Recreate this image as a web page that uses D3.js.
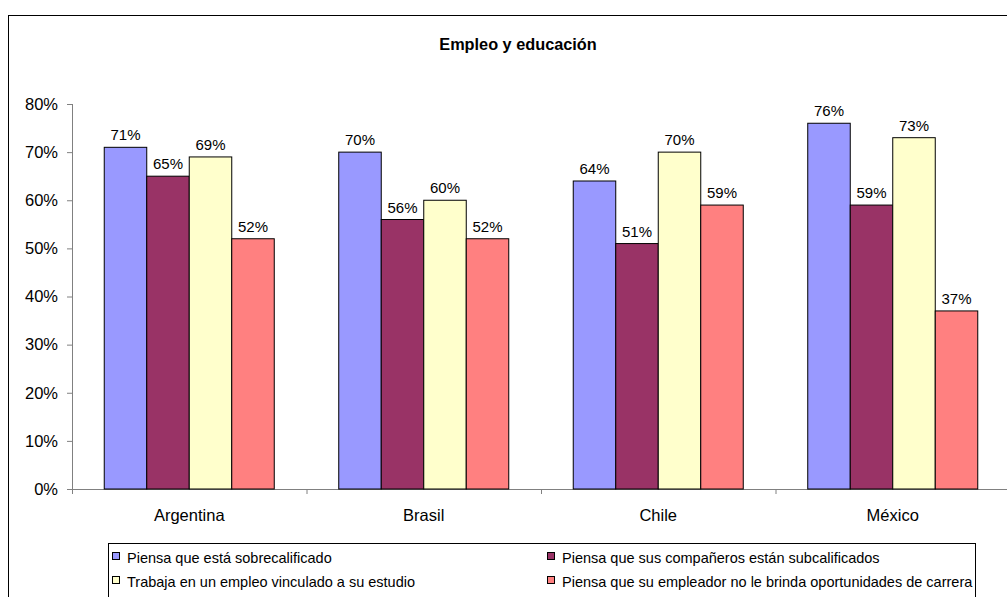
<!DOCTYPE html>
<html>
<head>
<meta charset="utf-8">
<script src="https://cdn.jsdelivr.net/npm/d3@7"></script>
<style>
  body { margin: 0; background: #fff; }
  svg { display: block; font-family: "Liberation Sans", Arial, sans-serif; }
</style>
</head>
<body>
<svg id="chart" width="1007" height="597"></svg>
<script>
const countries = ["Argentina", "Brasil", "Chile", "México"];
const seriesNames = [
  "Piensa que está sobrecalificado",
  "Piensa que sus compañeros están subcalificados",
  "Trabaja en un empleo vinculado a su estudio",
  "Piensa que su empleador no le brinda oportunidades de carrera"
];
const sobrecalificado = [71, 70, 64, 76];
const companeros = [65, 56, 51, 59];
const vinculado = [69, 60, 70, 73];
const empleador = [52, 52, 59, 37];
const yTicks = [0, 10, 20, 30, 40, 50, 60, 70, 80];
const colors = ["#9999FF", "#993366", "#FFFFCC", "#FF8080"];

const seriesValues = [sobrecalificado, companeros, vinculado, empleador];

const svg = d3.select("#chart");

// outer chart frame
svg.append("rect")
  .attr("x", 8.5).attr("y", 15.5)
  .attr("width", 1010).attr("height", 600)
  .attr("fill", "none").attr("stroke", "#000").attr("stroke-width", 1);

svg.append("text")
  .attr("x", 518).attr("y", 50)
  .attr("text-anchor", "middle")
  .attr("font-size", 16.3).attr("font-weight", "bold")
  .text("Empleo y educación");

const plot = { left: 72, right: 1010, top: 104, bottom: 489 };

const x0 = d3.scaleBand()
  .domain(countries)
  .range([plot.left, plot.right])
  .paddingInner(0.275)
  .paddingOuter(0.1375);

const x1 = d3.scaleBand()
  .domain(d3.range(seriesNames.length))
  .range([0, x0.bandwidth()]);

const y = d3.scaleLinear().domain([0, 80]).range([plot.bottom, plot.top]);

// y axis
const yAxis = svg.append("g")
  .attr("transform", "translate(" + plot.left + ",0)")
  .call(d3.axisLeft(y).tickValues(yTicks).tickSize(5).tickPadding(9).tickFormat(d => d + "%"));
yAxis.select(".domain").attr("stroke", "#808080").attr("d", "M0.5," + (plot.top) + "V" + plot.bottom);
yAxis.selectAll(".tick line").attr("stroke", "#808080");
yAxis.selectAll(".tick text").attr("font-size", 16.5).attr("fill", "#000")
  .attr("font-family", "Liberation Sans, Arial, sans-serif");

// x axis with ticks between categories
const catStep = (plot.right - plot.left) / countries.length;
const xAxisG = svg.append("g");
xAxisG.append("line")
  .attr("x1", plot.left - 5).attr("x2", plot.right)
  .attr("y1", plot.bottom + 0.5).attr("y2", plot.bottom + 0.5)
  .attr("stroke", "#808080");
xAxisG.selectAll("line.sep")
  .data(d3.range(countries.length + 1))
  .enter().append("line")
  .attr("class", "sep")
  .attr("x1", i => plot.left + i * catStep + 0.5)
  .attr("x2", i => plot.left + i * catStep + 0.5)
  .attr("y1", plot.bottom).attr("y2", plot.bottom + 5)
  .attr("stroke", "#808080");
xAxisG.selectAll("text")
  .data(countries)
  .enter().append("text")
  .attr("x", d => x0(d) + x0.bandwidth() / 2)
  .attr("y", plot.bottom + 32)
  .attr("text-anchor", "middle")
  .attr("font-size", 16.5)
  .text(d => d);

// bars
const groups = svg.append("g")
  .selectAll("g")
  .data(countries)
  .enter().append("g")
  .attr("transform", d => "translate(" + x0(d) + ",0)");

groups.selectAll("rect")
  .data((c, ci) => seriesValues.map((vals, si) => ({ si, v: vals[ci] })))
  .enter().append("rect")
  .attr("x", d => x1(d.si))
  .attr("y", d => y(d.v))
  .attr("width", x1.bandwidth())
  .attr("height", d => y(0) - y(d.v))
  .attr("fill", d => colors[d.si])
  .attr("stroke", "#000")
  .attr("stroke-width", 1);

groups.selectAll("text")
  .data((c, ci) => seriesValues.map((vals, si) => ({ si, v: vals[ci] })))
  .enter().append("text")
  .attr("x", d => x1(d.si) + x1.bandwidth() / 2)
  .attr("y", d => y(d.v) - 7)
  .attr("text-anchor", "middle")
  .attr("font-size", 15)
  .text(d => d.v + "%");

// legend
const legend = svg.append("g");
legend.append("rect")
  .attr("x", 108.5).attr("y", 543.5)
  .attr("width", 867).attr("height", 70)
  .attr("fill", "#fff").attr("stroke", "#000");

const legPos = [[112, 563], [547, 563], [112, 587], [547, 587]];
const items = legend.selectAll("g.item")
  .data(seriesNames)
  .enter().append("g")
  .attr("class", "item")
  .attr("transform", (d, i) => "translate(" + legPos[i][0] + "," + legPos[i][1] + ")");
items.append("rect")
  .attr("x", 0.5).attr("y", -10.5)
  .attr("width", 7).attr("height", 7)
  .attr("fill", (d, i) => colors[i])
  .attr("stroke", "#000");
items.append("text")
  .attr("x", 15).attr("y", 0)
  .attr("font-size", 14.5)
  .text(d => d);
</script>
</body>
</html>
